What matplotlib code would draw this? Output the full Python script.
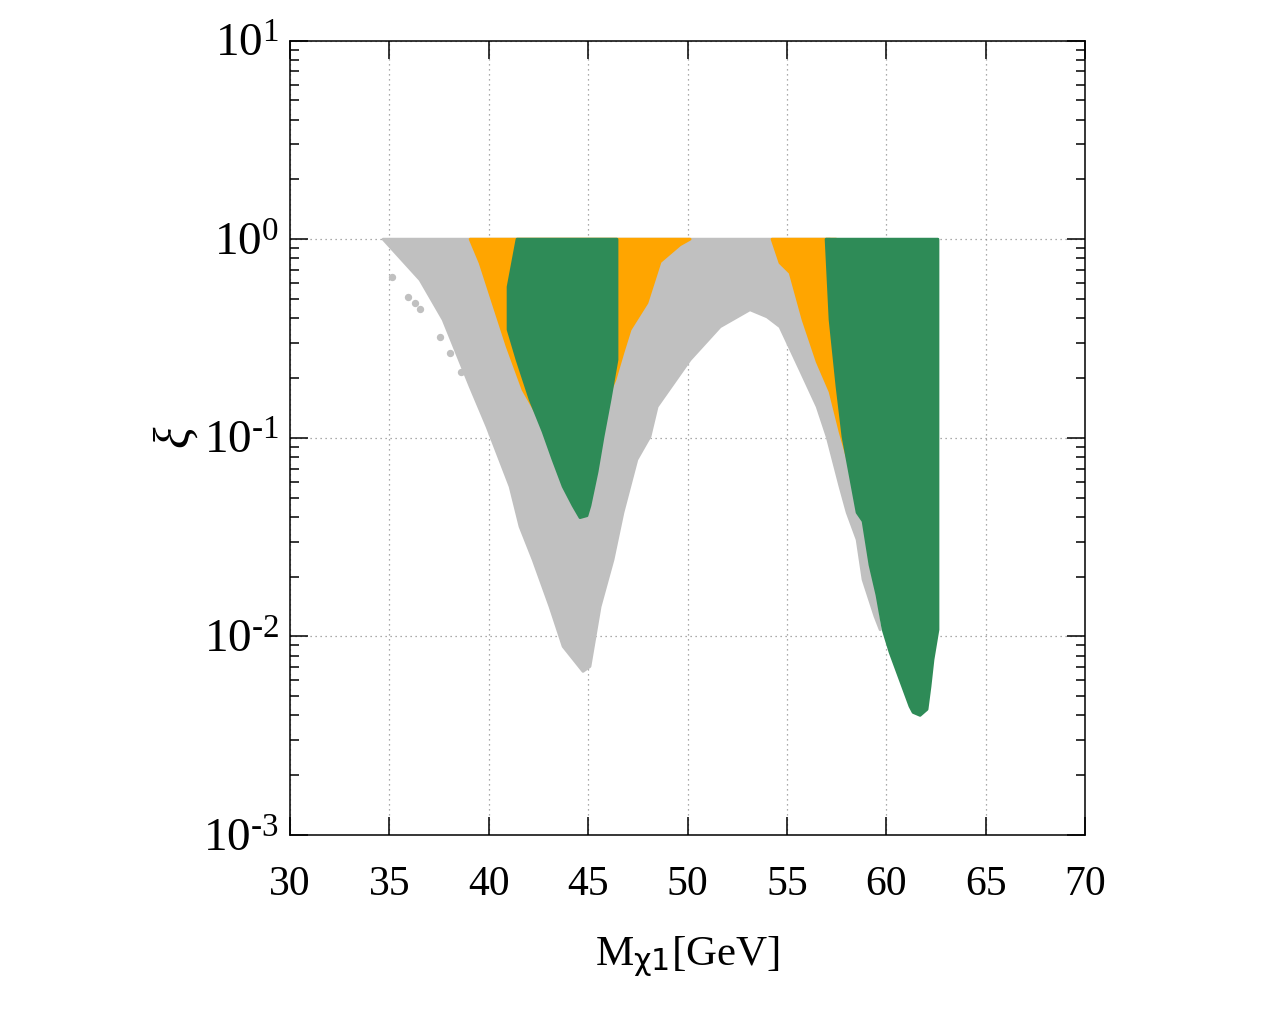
import numpy as np
import matplotlib
matplotlib.use("Agg")
import matplotlib.pyplot as plt

plt.rcParams['font.family'] = ['Liberation Serif', 'DejaVu Serif']
plt.rcParams['mathtext.fontset'] = 'custom'
plt.rcParams['mathtext.rm'] = 'Liberation Serif'
plt.rcParams['mathtext.it'] = 'Liberation Serif:italic'
plt.rcParams['mathtext.sf'] = 'DejaVu Sans'

# region boundaries: (M_chi1 [GeV], xi)
gray_m = [34.68, 57.17, 58.68, 59.69, 59.43, 58.83, 58.53, 58.03, 57.67, 57.02, 56.52,
          55.66, 54.65, 54.00, 53.14, 51.64, 50.13, 48.47, 48.11, 47.45, 46.75, 46.25,
          45.60, 45.09, 44.74, 43.74, 43.08, 42.23, 41.57, 41.07, 39.91, 39.06, 37.70,
          36.54, 35.03]
gray_xi = [1.0, 1.0, 0.0610, 0.0108, 0.0126, 0.0193, 0.0307, 0.0420, 0.0568, 0.1013, 0.1434,
           0.220, 0.362, 0.406, 0.441, 0.362, 0.247, 0.1434, 0.1013, 0.0776, 0.0420, 0.0243,
           0.0141, 0.00705, 0.00666, 0.00889, 0.0141, 0.0243, 0.0357, 0.0568, 0.1137, 0.181, 0.393,
           0.624, 0.915]

# stray grey points outside the main band
gray_pts_m = [35.12, 35.94, 36.29, 36.54, 37.55, 38.05, 38.60]
gray_pts_xi = [0.644, 0.512, 0.478, 0.446, 0.322, 0.268, 0.215]

orange1_m = [39.06, 50.13, 49.62, 48.62, 47.96, 47.11, 46.75, 46.35, 45.50, 42.58, 41.72,
             40.92, 40.21, 39.56]
orange1_xi = [1.0, 1.0, 0.936, 0.769, 0.478, 0.350, 0.268, 0.196, 0.1233, 0.1233, 0.1745,
              0.2886, 0.478, 0.760]

orange2_m = [54.25, 57.48, 58.99, 58.49, 58.24, 57.67, 57.17, 56.52, 55.81, 55.16, 54.65]
orange2_xi = [1.0, 1.0, 0.0494, 0.0521, 0.0675, 0.1073, 0.1705, 0.2414, 0.393, 0.677, 0.760]

green1_m = [41.42, 46.45, 46.45, 46.45, 46.10, 45.75, 45.45, 45.09, 44.94, 44.59, 44.24,
            43.74, 43.23, 42.73, 42.08, 41.42, 40.97, 40.97]
green1_xi = [1.0, 1.0, 0.575, 0.247, 0.1555, 0.1013, 0.0675, 0.0455, 0.0405, 0.0396, 0.0455,
             0.0568, 0.0776, 0.1073, 0.1555, 0.247, 0.350, 0.575]

green2_m = [56.97, 62.60, 62.60, 62.35, 62.20, 62.05, 61.70, 61.35, 61.19, 60.69, 60.19,
            59.84, 59.53, 59.18, 58.83, 58.53, 57.82, 57.52, 57.17]
green2_xi = [1.0, 1.0, 0.0108, 0.00764, 0.00560, 0.00429, 0.00400, 0.00414, 0.00444, 0.00607,
             0.00830, 0.0108, 0.01613, 0.02285, 0.0380, 0.0420, 0.1013, 0.181, 0.393]

xticks = [30, 35, 40, 45, 50, 55, 60, 65, 70]
yticks = [1e-3, 1e-2, 1e-1, 1, 10]
ylabels = [r'$10^{\text{-3}}$', r'$10^{\text{-2}}$', r'$10^{\text{-1}}$', r'$10^{0}$', r'$10^{1}$']

c_gray = '#c0c0c0'
c_orange = '#ffa500'
c_green = '#2e8b57'

fig = plt.figure(figsize=(12.8, 10.24), dpi=100)
ax = fig.add_axes([0.2266, 0.1846, 0.6211, 0.7758])

ax.fill(gray_m, gray_xi, color=c_gray, lw=2, joinstyle='round', zorder=2)
ax.scatter(gray_pts_m, gray_pts_xi, s=28, color=c_gray, lw=0, zorder=2)
ax.fill(orange1_m, orange1_xi, color=c_orange, lw=2, joinstyle='round', zorder=3)
ax.fill(orange2_m, orange2_xi, color=c_orange, lw=2, joinstyle='round', zorder=3)
ax.fill(green1_m, green1_xi, color=c_green, lw=2, joinstyle='round', zorder=4)
ax.fill(green2_m, green2_xi, color=c_green, lw=2, joinstyle='round', zorder=4)

ax.set_yscale('log')
ax.set_xlim(30, 70)
ax.set_ylim(1e-3, 10)
ax.set_xticks(xticks)
ax.set_yticks(yticks)
ax.set_yticklabels(ylabels)
ax.tick_params(which='both', direction='in', top=True, right=True, width=1.1)
ax.tick_params(which='major', length=13)
ax.tick_params(which='minor', length=6.5)
ax.tick_params(axis='x', labelsize=30, pad=22)
ax.tick_params(axis='y', labelsize=34, pad=8)
ax.grid(True, which='major', linestyle=(0, (1, 3)), color='#909090', lw=0.9, zorder=1)
for s in ax.spines.values():
    s.set_linewidth(1.1)
    s.set_zorder(6)

ax.set_xlabel(r'M$_{\mathsf{\chi}\mathsf{1}}$[GeV]', fontsize=31, labelpad=22)
ax.set_ylabel(r'$\xi$', fontsize=36, labelpad=2)

fig.savefig('out.png', dpi=100)
